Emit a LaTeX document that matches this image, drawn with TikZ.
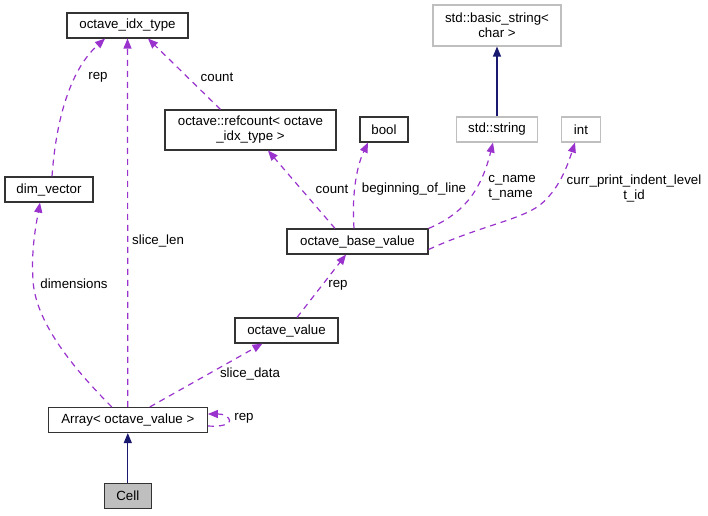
\documentclass[tikz,border=0pt]{standalone}
\usepackage{fontspec}
\setmainfont{Liberation Sans}
\usetikzlibrary{arrows.meta}
\definecolor{pedge}{HTML}{9A32CD}
\definecolor{nedge}{HTML}{191970}
\definecolor{lgray}{HTML}{BFBFBF}
\begin{document}
\begin{tikzpicture}[x=1pt,y=-1pt,
  every node/.style={font=\fontsize{13.3}{15}\selectfont},
  box/.style={draw=black!80, line width=1.1pt, inner sep=0pt, align=center, fill=white},
  gbox/.style={box, draw=lgray},
  pe/.style={draw=pedge, line width=1.2pt, dash pattern=on 6pt off 5pt, -{Triangle[length=10pt,width=8pt,fill=pedge]}},
  ne/.style={draw=nedge, line width=1.2pt, -{Triangle[length=10pt,width=8pt,fill=nedge]}},
  lbl/.style={inner sep=0pt, align=center}]
\useasboundingbox (0,0) rectangle (708,515);
% nodes
\node[box, minimum width=121pt, minimum height=25pt] (idx) at (127.5,25.5) {octave\_idx\_type};
\node[box, minimum width=171pt, minimum height=40pt] (rc) at (250.5,130) {octave::refcount< octave\\\_idx\_type >};
\node[box, minimum width=48pt, minimum height=25pt] (bool) at (384,129.5) {bool};
\node[gbox, minimum width=128pt, minimum height=41pt] (bs) at (497,25.5) {std::basic\_string<\\char >};
\node[gbox, minimum width=81pt, minimum height=25pt] (str) at (497,129.5) {std::string};
\node[gbox, minimum width=39pt, minimum height=25pt] (int) at (581,129.5) {int};
\node[box, minimum width=88pt, minimum height=25pt] (dv) at (49,189.5) {dim\_vector};
\node[box, minimum width=141pt, minimum height=25pt] (obv) at (357.5,241.5) {octave\_base\_value};
\node[box, minimum width=103pt, minimum height=25pt] (ov) at (286.5,330.5) {octave\_value};
\node[box, minimum width=159pt, minimum height=25pt] (arr) at (127.8,420) {Array< octave\_value >};
\node[box, fill=lgray, minimum width=47pt, minimum height=25pt] (cell) at (127.8,496) {Cell};
% navy edges
\draw[ne] (cell.north) -- (arr.south);
\draw[ne] (str.north) -- (bs.south);
% purple edges
\draw[pe] ([xshift=3pt]dv.north) .. controls (56,120) and (70,70) .. ([xshift=-22.5pt]idx.south);
\node[lbl] (l1) at (98,77) {rep};
\draw[pe] (arr.north) -- (idx.south);
\node[lbl, anchor=west] (l2) at (132,241) {slice\_len};
\draw[pe] ([xshift=-30pt]rc.north) -- ([xshift=20.5pt]idx.south);
\node[lbl] (l3) at (217,77) {count};
\draw[pe] ([xshift=-22.5pt]obv.north) -- ([xshift=17.5pt]rc.south);
\node[lbl] (l4) at (332,189) {count};
\draw[pe] ([xshift=-3.5pt]obv.north) .. controls (352,200) and (355,170) .. ([xshift=-16pt]bool.south);
\node[lbl] (l5) at (414,189) {beginning\_of\_line};
\draw[pe] (obv.north east) .. controls (460,215) and (480,195) .. ([xshift=-4pt]str.south);
\node[lbl, align=left] (l6) at (512,188) {c\_name\\t\_name};
\draw[pe] ([yshift=-8pt]obv.east) .. controls (480,226) and (520,220) .. (540,205) .. controls (558,190) and (566,170) .. ([xshift=-6pt]int.south);
\node[lbl] (l7) at (634,188) {curr\_print\_indent\_level\\t\_id};
\draw[pe] ([xshift=-16pt]arr.north) .. controls (70,365) and (35,320) .. (33,280) .. controls (31,250) and (36,225) .. ([xshift=-9pt]dv.south);
\node[lbl] (l8) at (74,284) {dimensions};
\draw[pe] ([xshift=22pt]arr.north) -- ([xshift=-24pt]ov.south);
\node[lbl] (l9) at (250,374) {slice\_data};
\draw[pe] ([xshift=10.5pt]ov.north) -- ([xshift=-11.5pt]obv.south);
\node[lbl] (l10) at (338,285) {rep};
\draw[pe] ([yshift=-6pt]arr.east) .. controls (222,427) and (232,424) .. (229,419) .. controls (227,415) and (222,414) .. ([yshift=6pt]arr.east);
\node[lbl] (l11) at (244,418) {rep};
\end{tikzpicture}
\end{document}
